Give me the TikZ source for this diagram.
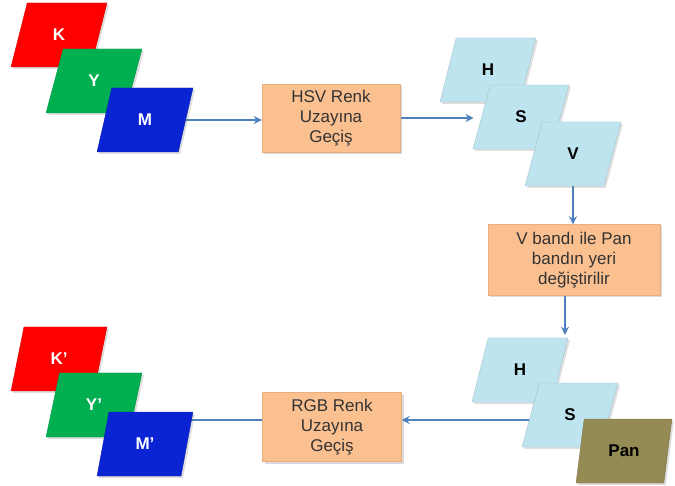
\documentclass[tikz,border=0pt]{standalone}
\usepackage{fontspec}
\setmainfont{Liberation Sans}
\usetikzlibrary{shapes.geometric,arrows.meta,positioning,backgrounds,shadows}
\definecolor{bandred}{RGB}{255,0,0}
\definecolor{bandgreen}{RGB}{0,176,80}
\definecolor{bandblue}{RGB}{10,36,212}
\definecolor{bandcyan}{RGB}{190,228,240}
\definecolor{bandpan}{RGB}{148,138,84}
\definecolor{stepfill}{RGB}{250,192,144}
\definecolor{stepedge}{RGB}{232,174,126}
\definecolor{arrowblue}{RGB}{79,129,189}
\definecolor{textgray}{RGB}{51,51,51}
\tikzset{
    % parallelogram for a single colour band
    band/.style={
        trapezium, trapezium left angle=75, trapezium right angle=105,
        trapezium stretches=true, minimum width=96pt, minimum height=64pt,
        inner sep=0pt, font=\fontsize{17}{20}\selectfont\bfseries,
        drop shadow={shadow xshift=2pt, shadow yshift=-2pt, opacity=0.25}
    },
    colorband/.style={band, fill=#1, draw=#1!85!black, text=white},
    hsvband/.style={band, fill=#1, draw=#1!85!black, text=black},
    % conversion steps
    stepbox/.style={
        rectangle, draw=stepedge, fill=stepfill, text=textgray,
        align=center, inner sep=0pt, font=\fontsize{17}{20}\selectfont,
        drop shadow={shadow xshift=2pt, shadow yshift=-2pt, opacity=0.3}
    },
    arrow/.style={
        -{Stealth[length=8pt, width=8pt]}, line width=1.6pt, color=arrowblue
    }
}
\begin{document}
\begin{tikzpicture}[x=1pt, y=-1pt]
\useasboundingbox (0,0) rectangle (675,486);

% input image
\node[colorband=bandred] (K) at (59,35) {K};
\node[colorband=bandgreen] (Y) at (94,81) {Y};
\node[colorband=bandblue] (M) at (145,120) {M};

\node[stepbox, minimum width=138pt, minimum height=68pt] (hsv) at (331,118) {HSV Renk\\Uzayına\\Geçiş};

\node[hsvband=bandcyan] (H) at (488,70) {H};
\node[hsvband=bandcyan] (S) at (521,117) {S};
\node[hsvband=bandcyan] (V) at (573,154) {V};

\node[stepbox, minimum width=172pt, minimum height=71pt] (swap) at (574,260) {V bandı ile Pan\\bandın yeri\\değiştirilir};

% bands after the swap
\node[hsvband=bandcyan] (H2) at (520,370) {H};
\node[hsvband=bandcyan] (S2) at (570,415) {S};
\node[hsvband=bandpan] (Pan) at (624,451) {Pan};

\node[stepbox, minimum width=139pt, minimum height=69pt] (rgb) at (332,427) {RGB Renk\\Uzayına\\Geçiş};

% output image
\node[colorband=bandred] (K2) at (59,359) {K’};
\node[colorband=bandgreen] (Y2) at (94,405) {Y’};
\node[colorband=bandblue] (M2) at (145,444) {M’};

\coordinate (drop) at ([xshift=-9pt]swap.south);
\coordinate (back) at ([yshift=7pt]rgb.east);
\coordinate (out) at ([yshift=7pt]rgb.west);

\begin{scope}[on background layer]
\draw[arrow] (M) -- (M -| hsv.west);
\draw[arrow, shorten >=8pt] (hsv.east) -- (hsv.east -| S.west);
\draw[arrow] (V) -- (V |- swap.north);
\draw[arrow, shorten >=3pt] (drop) -- (drop |- H2.north);
\draw[arrow] (back -| S2.center) -- (back);
\draw[arrow] (out) -- (out -| M2.north east);
\end{scope}

\end{tikzpicture}
\end{document}
